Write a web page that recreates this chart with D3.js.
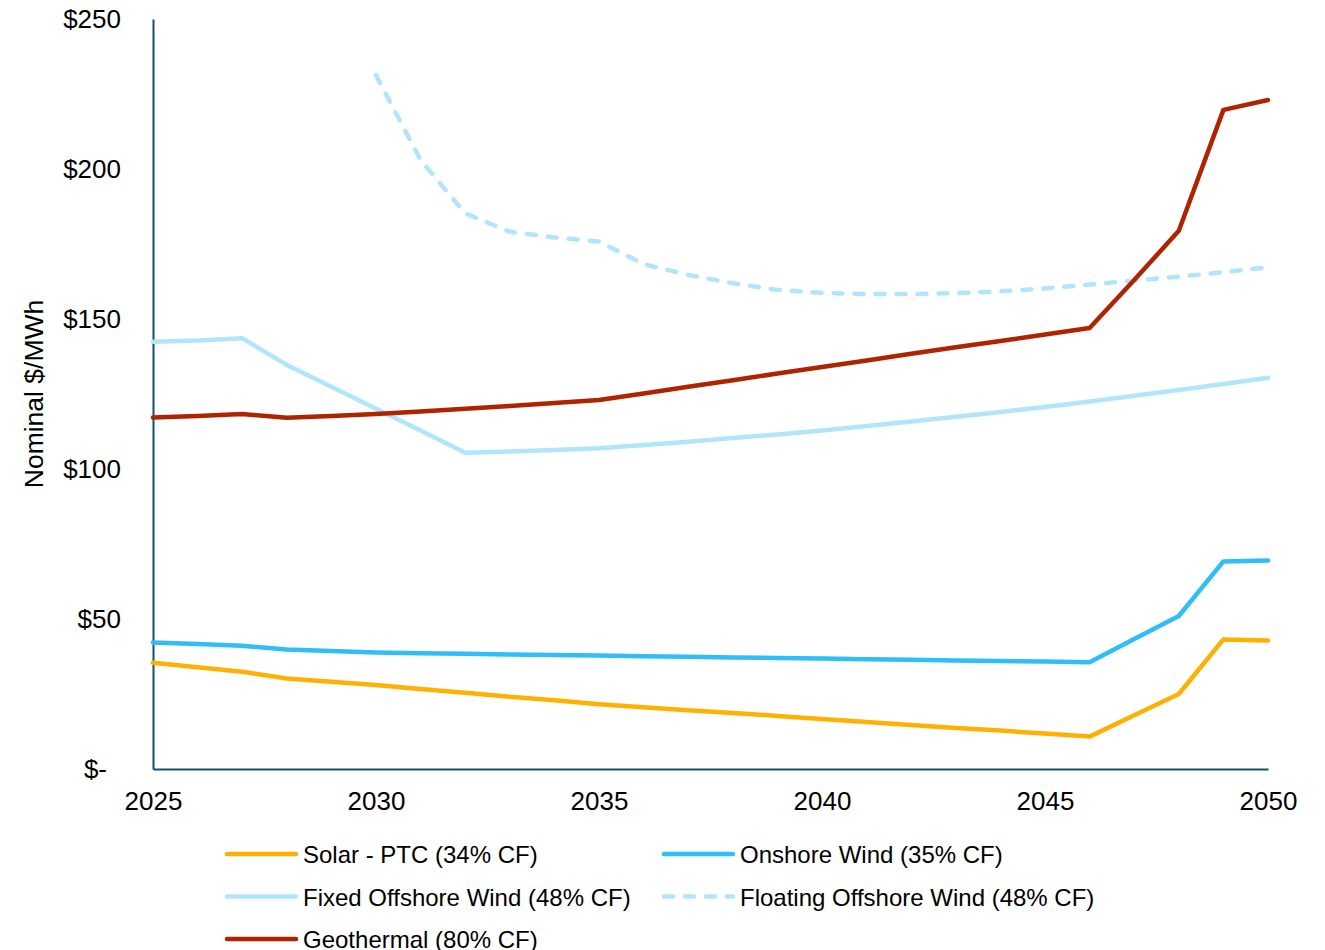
<!DOCTYPE html>
<html>
<head>
<meta charset="utf-8">
<script src="https://cdn.jsdelivr.net/npm/d3@7"></script>
<style>
  body { margin: 0; background: #fff; }
  svg text { font-family: "Liberation Sans", Arial, sans-serif; fill: #000; }
</style>
</head>
<body>
<div class="chart"></div>
<script>
const years = d3.range(2025, 2051);

const solar = [35.4, 33.9, 32.4, 30.2, 29.1, 28.0, 26.7, 25.4, 24.1, 22.9, 21.6,
  20.6, 19.6, 18.7, 17.7, 16.7, 15.7, 14.7, 13.7, 12.8, 11.8, 10.8, 17.9, 25.0, 43.2, 42.8];
const onshore = [42.2, 41.7, 41.1, 39.8, 39.3, 38.8, 38.6, 38.4, 38.2, 38.0, 37.8,
  37.6, 37.4, 37.2, 37.0, 36.8, 36.6, 36.4, 36.2, 36.0, 35.8, 35.6, 43.3, 51.0, 69.2, 69.5];
const fixedOffshore = [142.4, 142.8, 143.6, 134.7, 127.4, 120.1, 112.8, 105.4, 105.8, 106.3, 106.9,
  108.0, 109.1, 110.3, 111.5, 112.8, 114.3, 115.8, 117.4, 119.0, 120.7, 122.5, 124.4, 126.3, 128.3, 130.4];
const floatingOffshore = [null, null, null, null, null, 231.3, 203.0, 185.2, 179.1, 177.2, 175.8,
  168.3, 164.7, 161.9, 159.7, 158.7, 158.3, 158.3, 158.6, 159.2, 160.2, 161.5, 162.8, 164.1, 165.6, 167.2];
const geothermal = [117.2, 117.7, 118.3, 117.1, 117.7, 118.3, 119.2, 120.1, 121.0, 122.0, 123.0,
  125.2, 127.4, 129.6, 131.8, 134.0, 136.2, 138.4, 140.6, 142.7, 144.8, 147.0, 163.0, 179.4, 219.7, 223.0];

const seriesNames = [
  "Solar - PTC (34% CF)",
  "Onshore Wind (35% CF)",
  "Fixed Offshore Wind (48% CF)",
  "Floating Offshore Wind (48% CF)",
  "Geothermal (80% CF)"
];
const seriesValues = [solar, onshore, fixedOffshore, floatingOffshore, geothermal];
const seriesColors = ["#FFB000", "#2FBEF8", "#B1E5FB", "#B1E5FB", "#B02300"];
const seriesDashed = [false, false, false, true, false];

const yTicks = [0, 50, 100, 150, 200, 250];
const xTicks = [2025, 2030, 2035, 2040, 2045, 2050];

const W = 1325, H = 950;
const margin = { top: 19, right: 57, bottom: 181, left: 153 };
const axisColor = "#134F6E";

const svg = d3.select(".chart").append("svg")
  .attr("width", W)
  .attr("height", H);

const x = d3.scaleLinear()
  .domain([2025, 2050])
  .range([margin.left, W - margin.right]);

const y = d3.scaleLinear()
  .domain([0, 250])
  .range([H - margin.bottom, margin.top]);

// axes
const yAxis = d3.axisLeft(y)
  .tickValues(yTicks)
  .tickSize(0)
  .tickSizeOuter(0)
  .tickPadding(32)
  .tickFormat(d => d === 0 ? "$-" : "$" + d);

const xAxis = d3.axisBottom(x)
  .tickValues(xTicks)
  .tickSize(0)
  .tickSizeOuter(0)
  .tickPadding(22.5)
  .tickFormat(d3.format("d"));

const gy = svg.append("g")
  .attr("class", "y axis")
  .attr("transform", `translate(${margin.left},0)`)
  .call(yAxis);

gy.selectAll("text")
  .style("font-size", "26px")
  .attr("font-family", null)
  .attr("dx", d => d === 0 ? -14 : 0);

const gx = svg.append("g")
  .attr("class", "x axis")
  .attr("transform", `translate(0,${H - margin.bottom})`)
  .call(xAxis);

gx.selectAll("text")
  .style("font-size", "26px")
  .attr("font-family", null);

svg.selectAll(".axis .domain")
  .attr("stroke", axisColor)
  .attr("stroke-width", 2);

svg.append("text")
  .attr("transform", `translate(43,394) rotate(-90)`)
  .style("text-anchor", "middle")
  .style("font-size", "26.5px")
  .text("Nominal $/MWh");

// lines
const line = d3.line()
  .defined(d => d.v !== null)
  .x(d => x(d.year))
  .y(d => y(d.v));

const series = seriesNames.map((name, i) => ({
  name,
  color: seriesColors[i],
  dashed: seriesDashed[i],
  values: years.map((year, j) => ({ year, v: seriesValues[i][j] }))
}));

svg.append("g")
  .attr("class", "lines")
  .selectAll("path")
  .data(series)
  .join("path")
  .attr("fill", "none")
  .attr("stroke", d => d.color)
  .attr("stroke-width", 4.5)
  .attr("stroke-linejoin", "round")
  .attr("stroke-linecap", "round")
  .attr("stroke-dasharray", d => d.dashed ? "9,12" : null)
  .attr("d", d => line(d.values));

// legend
const legendCols = [227, 664];
const legendRows = [854, 896.5, 939];

const legend = svg.append("g")
  .attr("class", "legend")
  .selectAll("g")
  .data(series)
  .join("g")
  .attr("transform", (d, i) => `translate(${legendCols[i % 2]},${legendRows[Math.floor(i / 2)]})`);

legend.append("line")
  .attr("x1", 0)
  .attr("x2", 69)
  .attr("stroke", d => d.color)
  .attr("stroke-width", 4.5)
  .attr("stroke-linecap", "round")
  .attr("stroke-dasharray", d => d.dashed ? "9,12" : null);

legend.append("text")
  .attr("x", 76)
  .attr("y", 9)
  .style("font-size", "24px")
  .text(d => d.name);
</script>
</body>
</html>
